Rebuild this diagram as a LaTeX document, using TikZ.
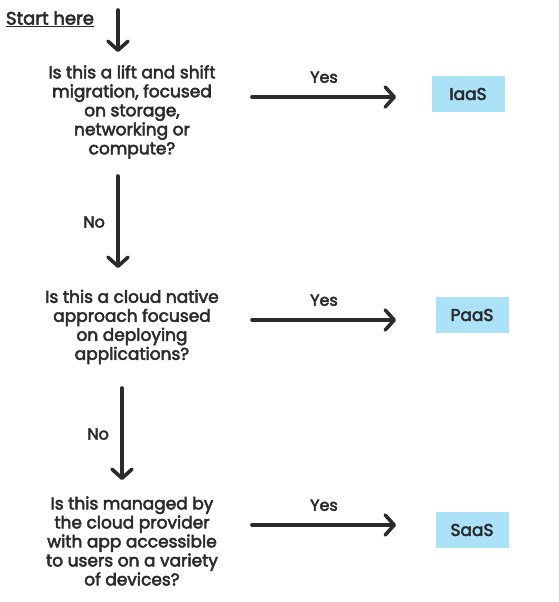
\documentclass[tikz,border=0pt]{standalone}
\usepackage{fontspec}
\setmainfont{Poppins}[FakeBold=3]
\usetikzlibrary{arrows.meta,positioning}
\definecolor{inkgray}{HTML}{2B2B2B}
\definecolor{boxblue}{HTML}{ABE2F8}

\tikzset{
    question/.style={align=center, text=inkgray, font=\fontsize{17}{19}\selectfont, inner sep=0pt},
    answer/.style={fill=boxblue, text=inkgray, font=\fontsize{17}{17}\selectfont, minimum width=73pt, minimum height=36pt, inner sep=0pt},
    flow/.style={draw=inkgray, line width=3.6pt, line cap=round, -{Straight Barb[length=9pt,width=20pt,line width=3.6pt,round]}},
    tag/.style={text=inkgray, font=\fontsize{16}{17}\selectfont}
}

\begin{document}
\begin{tikzpicture}[x=1pt,y=-1pt]
    \useasboundingbox (0,0) rectangle (558,602);
    % start
    \node[tag, font=\fontsize{18}{18}\selectfont] (start) at (50,19) {\underline{Start here}};
    \coordinate (top) at (118,10);
    % questions
    \node[question] (q1) at (132,112) {Is this a lift and shift\\migration, focused\\on storage,\\networking or\\compute?};
    \node[question] (q2) at (132,327) {Is this a cloud native\\approach focused\\on deploying\\applications?};
    \node[question] (q3) at (132,541) {Is this managed by\\the cloud provider\\with app accessible\\to users on a variety\\of devices?};
    % answers
    \node[answer] (iaas) at (468,94) {IaaS};
    \node[answer] (paas) at (472,315) {PaaS};
    \node[answer] (saas) at (472,530) {SaaS};
    % arrows down
    \draw[flow] (top) -- (118,52);
    \draw[flow] (118,176) -- (118,268) node[midway, left=8pt, tag] {No};
    \draw[flow] (122,388) -- (122,480) node[midway, left=8pt, tag] {No};
    % arrows right
    \draw[flow] (252,97) -- (396,97) node[midway, above=9pt, tag] {Yes};
    \draw[flow] (252,320) -- (396,320) node[midway, above=9pt, tag] {Yes};
    \draw[flow] (252,525) -- (396,525) node[midway, above=9pt, tag] {Yes};
\end{tikzpicture}
\end{document}
